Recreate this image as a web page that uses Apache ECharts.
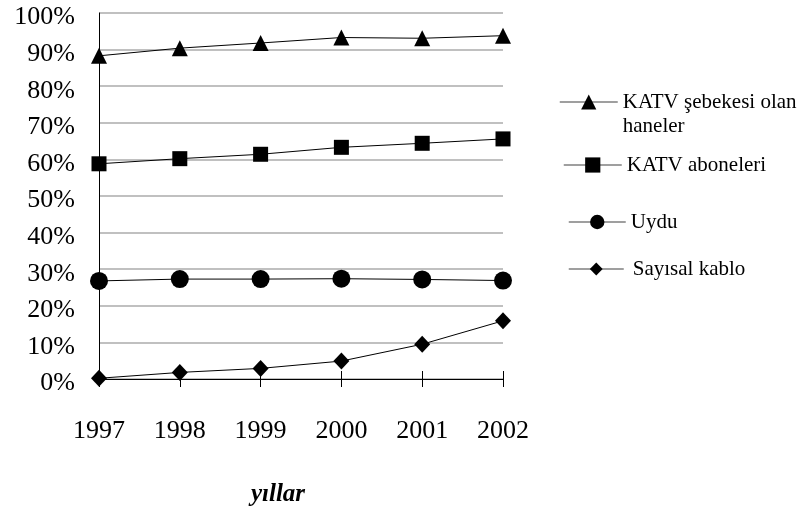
<!DOCTYPE html>
<html>
<head>
<meta charset="utf-8">
<script src="https://cdn.jsdelivr.net/npm/echarts@6/dist/echarts.min.js"></script>
<style>
  html, body { margin: 0; padding: 0; background: #fff; }
  #chart { width: 806px; height: 509px; }
</style>
</head>
<body>
<div id="chart"></div>
<script>
const years = ['1997', '1998', '1999', '2000', '2001', '2002'];
const katvHouseholds = [88.3, 90.4, 91.8, 93.3, 93.1, 93.8];
const katvSubscribers = [58.8, 60.2, 61.4, 63.3, 64.4, 65.6];
const satellite = [26.8, 27.3, 27.3, 27.4, 27.2, 26.9];
const digitalCable = [0.2, 1.8, 2.9, 4.9, 9.5, 15.9];
const seriesNames = ['KATV şebekesi olan haneler', 'KATV aboneleri', 'Uydu', 'Sayısal kablo'];
const xAxisTitle = 'yıllar';

const FONT = 'Liberation Serif';
const chart = echarts.init(document.getElementById('chart'), null, { renderer: 'canvas' });

const legendText = { fontFamily: FONT, fontSize: 21, color: '#000', lineHeight: 24 };
const legendLine = { color: '#7f7f7f', width: 1.5 };

chart.setOption({
  animation: false,
  backgroundColor: '#fff',
  grid: { left: 99, right: 303, top: 13, bottom: 130, containLabel: false, outerBoundsMode: 'none' },
  xAxis: [
    {
      type: 'category',
      data: years,
      boundaryGap: false,
      axisLine: { lineStyle: { color: '#000', width: 1 } },
      axisTick: { show: true, length: 8, inside: false, alignWithLabel: true, lineStyle: { color: '#000' } },
      axisLabel: { fontFamily: FONT, fontSize: 26, color: '#000', margin: 39 },
      splitLine: { show: false },
      name: xAxisTitle,
      nameLocation: 'middle',
      nameGap: 103,
      nameTextStyle: { fontFamily: FONT, fontSize: 25, fontStyle: 'italic', fontWeight: 'bold', color: '#000', padding: [0, 46, 0, 0] }
    },
    {
      type: 'category',
      data: years,
      boundaryGap: false,
      position: 'bottom',
      axisLine: { show: false },
      axisTick: { show: true, length: 8, inside: true, lineStyle: { color: '#000' } },
      axisLabel: { show: false },
      splitLine: { show: false }
    }
  ],
  yAxis: {
    type: 'value',
    min: 0,
    max: 100,
    interval: 10,
    axisLine: { show: true, lineStyle: { color: '#000', width: 1 } },
    axisTick: { show: false },
    axisLabel: { fontFamily: FONT, fontSize: 26, color: '#000', margin: 24, formatter: '{value}%', verticalAlign: 'top', lineHeight: 9 },
    splitLine: { show: true, lineStyle: { color: '#c0c0c0', width: 2 } }
  },
  legend: [
    {
      data: [seriesNames[0]], left: 559, top: 66, padding: 0,
      itemWidth: 58, itemHeight: 19,
      formatter: () => '\nKATV şebekesi olan\nhaneler',
      textStyle: legendText,
      lineStyle: legendLine, selectedMode: false
    },
    {
      data: [seriesNames[1]], left: 563, top: 153, padding: 0,
      itemWidth: 58, itemHeight: 19,
      textStyle: legendText, lineStyle: legendLine, selectedMode: false
    },
    {
      data: [seriesNames[2]], left: 568, top: 210, padding: 0,
      itemWidth: 57, itemHeight: 18,
      textStyle: legendText, lineStyle: legendLine, selectedMode: false
    },
    {
      data: [seriesNames[3]], left: 568, top: 257, padding: 0,
      itemWidth: 55, itemHeight: 16,
      textStyle: Object.assign({}, legendText, { padding: [0, 0, 0, 4] }),
      lineStyle: legendLine, selectedMode: false
    }
  ],
  series: [
    {
      name: seriesNames[0], type: 'line', data: katvHouseholds,
      symbol: 'triangle', symbolSize: [16, 16],
      lineStyle: { color: '#000', width: 1 }, itemStyle: { color: '#000' }
    },
    {
      name: seriesNames[1], type: 'line', data: katvSubscribers,
      symbol: 'rect', symbolSize: [15, 15],
      lineStyle: { color: '#000', width: 1 }, itemStyle: { color: '#000' }
    },
    {
      name: seriesNames[2], type: 'line', data: satellite,
      symbol: 'circle', symbolSize: 18,
      lineStyle: { color: '#000', width: 1 }, itemStyle: { color: '#000' }
    },
    {
      name: seriesNames[3], type: 'line', data: digitalCable,
      symbol: 'diamond', symbolSize: [16, 17],
      lineStyle: { color: '#000', width: 1 }, itemStyle: { color: '#000' }
    }
  ]
});
</script>
</body>
</html>
